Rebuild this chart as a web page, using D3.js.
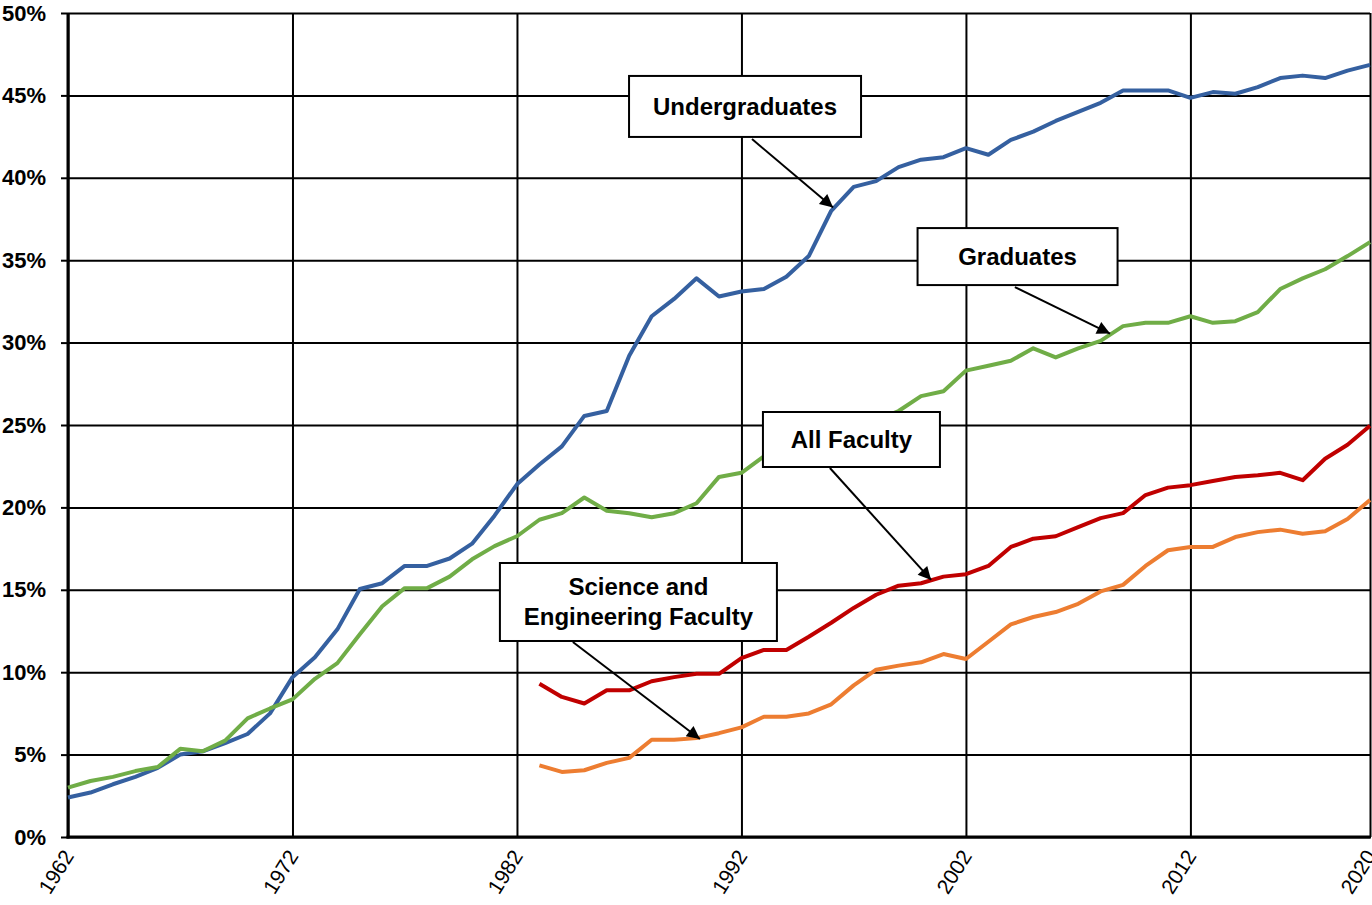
<!DOCTYPE html>
<html>
<head>
<meta charset="utf-8">
<script src="https://cdn.jsdelivr.net/npm/d3@7"></script>
<style>
  html, body { margin: 0; padding: 0; background: #fff; }
  svg { display: block; font-family: "Liberation Sans", Arial, sans-serif; }
</style>
</head>
<body>
<svg id="chart" width="1372" height="905"></svg>
<script>
// ---------- Data ----------
const years = d3.range(1962, 2021);            // 1962 .. 2020
const facultyYears = d3.range(1983, 2021);     // 1983 .. 2020

const undergraduates = [
  2.4, 2.7, 3.2, 3.65, 4.2, 5.0, 5.2, 5.7, 6.25, 7.5,
  9.7, 10.9, 12.6, 15.05, 15.4, 16.45, 16.45, 16.9, 17.8, 19.5,
  21.4, 22.6, 23.7, 25.55, 25.85, 29.2, 31.6, 32.65, 33.9, 32.8,
  33.1, 33.25, 34.0, 35.25, 38.0, 39.45, 39.8, 40.65, 41.1, 41.25,
  41.8, 41.4, 42.3, 42.8, 43.45, 44.0, 44.55, 45.3, 45.3, 45.3,
  44.85, 45.2, 45.1, 45.5, 46.05, 46.2, 46.05, 46.5, 46.85
];
const graduates = [
  3.0, 3.4, 3.65, 4.0, 4.25, 5.35, 5.2, 5.85, 7.2, 7.8,
  8.35, 9.6, 10.55, 12.3, 14.0, 15.1, 15.1, 15.8, 16.85, 17.65,
  18.25, 19.25, 19.65, 20.6, 19.8, 19.65, 19.4, 19.65, 20.25, 21.85,
  22.1, 23.1, 23.5, 24.0, 24.4, 24.9, 25.3, 25.85, 26.75, 27.05,
  28.3, 28.6, 28.9, 29.65, 29.1, 29.65, 30.1, 31.0, 31.2, 31.2,
  31.6, 31.2, 31.3, 31.85, 33.25, 33.9, 34.45, 35.25, 36.1
];
const allFaculty = [
  9.3, 8.5, 8.1, 8.9, 8.9, 9.45, 9.7, 9.9, 9.9, 10.85,
  11.35, 11.35, 12.15, 13.0, 13.9, 14.7, 15.25, 15.4, 15.8, 15.95,
  16.45, 17.6, 18.1, 18.25, 18.8, 19.35, 19.65, 20.75, 21.2, 21.35,
  21.6, 21.85, 21.95, 22.1, 21.65, 22.95, 23.8, 24.95
];
const seFaculty = [
  4.35, 3.95, 4.05, 4.5, 4.8, 5.9, 5.9, 6.0, 6.3, 6.65,
  7.3, 7.3, 7.5, 8.05, 9.2, 10.15, 10.4, 10.6, 11.1, 10.8,
  11.85, 12.9, 13.35, 13.65, 14.15, 14.9, 15.3, 16.45, 17.4, 17.6,
  17.6, 18.2, 18.5, 18.65, 18.4, 18.55, 19.3, 20.45
];

const xTickYears = [1962, 1972, 1982, 1992, 2002, 2012, 2020];
const yTickValues = [0, 5, 10, 15, 20, 25, 30, 35, 40, 45, 50];

const seriesNames = ["Undergraduates", "Graduates", "All Faculty", "Science and Engineering Faculty"];
const seriesColors = ["#3560A0", "#70AD47", "#C00000", "#ED7D31"];

// annotation callouts: label lines, box centre (year, %), arrow start (year, %), arrow tip (year, %)
const calloutLines = [["Undergraduates"], ["Graduates"], ["All Faculty"], ["Science and", "Engineering Faculty"]];
const calloutCenter = [[1992.16, 44.33], [2004.3, 35.22], [1996.9, 24.12], [1987.41, 14.26]];
const calloutSize = [[232, 61], [200, 57], [177, 55], [277, 78]];
const arrowStart = [[1992.47, 42.35], [2004.18, 33.37], [1995.94, 22.39], [1984.49, 11.83]];
const arrowTip = [[1996.08, 38.2], [2008.42, 30.55], [2000.45, 15.6], [1990.15, 5.95]];

// ---------- Layout ----------
const W = 1372, H = 905;
const plot = { left: 68, right: 1370, top: 13, bottom: 837 };

const svg = d3.select("#chart");
const x = d3.scaleLinear().domain([1962, 2020]).range([plot.left, plot.right]);
const y = d3.scaleLinear().domain([0, 50]).range([plot.bottom, plot.top]);

// Horizontal grid
svg.append("g")
  .attr("transform", `translate(${plot.left},0)`)
  .call(d3.axisLeft(y).tickValues(yTickValues).tickSize(-(plot.right - plot.left)).tickFormat(""))
  .call(g => g.select(".domain").remove())
  .call(g => g.selectAll("line").attr("stroke", "#000").attr("stroke-width", 2));

// Vertical grid
svg.append("g")
  .attr("transform", `translate(0,${plot.bottom})`)
  .call(d3.axisBottom(x).tickValues(xTickYears).tickSize(-(plot.bottom - plot.top)).tickFormat(""))
  .call(g => g.select(".domain").remove())
  .call(g => g.selectAll("line").attr("stroke", "#000").attr("stroke-width", 2));

// Y axis with labels
const yAxis = svg.append("g")
  .attr("transform", `translate(${plot.left},0)`)
  .call(d3.axisLeft(y).tickValues(yTickValues).tickSize(7).tickPadding(15).tickFormat(d => d + "%"));
yAxis.select(".domain").attr("stroke", "#000").attr("stroke-width", 3).attr("d", `M0,${plot.top}V${plot.bottom + 1.5}`);
yAxis.selectAll(".tick line").attr("stroke", "#000").attr("stroke-width", 2);
yAxis.selectAll(".tick text")
  .attr("fill", "#000").attr("font-size", 22).attr("font-weight", "bold")
  .attr("font-family", "'Liberation Sans', Arial, sans-serif");

// X axis with rotated labels
const xAxis = svg.append("g")
  .attr("transform", `translate(0,${plot.bottom})`)
  .call(d3.axisBottom(x).tickValues(xTickYears).tickSize(0).tickFormat(d3.format("d")));
xAxis.select(".domain").attr("stroke", "#000").attr("stroke-width", 3).attr("d", `M${plot.left - 1.5},0H${plot.right + 1}`);
xAxis.selectAll(".tick text")
  .attr("fill", "#000").attr("font-size", 21)
  .attr("font-family", "'Liberation Sans', Arial, sans-serif")
  .attr("text-anchor", "end")
  .attr("y", 0)
  .attr("dy", "0.35em")
  .attr("transform", "translate(0,15) rotate(-58)");

// Lines
const line = d3.line().x(d => x(d[0])).y(d => y(d[1]));
const seriesData = [
  years.map((yr, i) => [yr, undergraduates[i]]),
  years.map((yr, i) => [yr, graduates[i]]),
  facultyYears.map((yr, i) => [yr, allFaculty[i]]),
  facultyYears.map((yr, i) => [yr, seFaculty[i]])
];
svg.append("g").selectAll("path")
  .data(seriesData)
  .join("path")
  .attr("d", line)
  .attr("fill", "none")
  .attr("stroke", (d, i) => seriesColors[i])
  .attr("stroke-width", 4)
  .attr("stroke-linejoin", "round");

// Arrow marker
svg.append("defs").append("marker")
  .attr("id", "arrow")
  .attr("viewBox", "0 0 10 10")
  .attr("refX", 10).attr("refY", 5)
  .attr("markerWidth", 8).attr("markerHeight", 6.5)
  .attr("markerUnits", "strokeWidth")
  .attr("orient", "auto")
  .append("path").attr("d", "M0,0L10,5L0,10Z").attr("fill", "#000");

// Callouts
const callouts = svg.append("g");
calloutLines.forEach((lines, i) => {
  const cx = x(calloutCenter[i][0]), cy = y(calloutCenter[i][1]);
  const [bw, bh] = calloutSize[i];
  callouts.append("line")
    .attr("x1", x(arrowStart[i][0])).attr("y1", y(arrowStart[i][1]))
    .attr("x2", x(arrowTip[i][0])).attr("y2", y(arrowTip[i][1]))
    .attr("stroke", "#000").attr("stroke-width", 2)
    .attr("marker-end", "url(#arrow)");
  callouts.append("rect")
    .attr("x", cx - bw / 2).attr("y", cy - bh / 2)
    .attr("width", bw).attr("height", bh)
    .attr("fill", "#fff").attr("stroke", "#000").attr("stroke-width", 2);
  const lh = 30;
  lines.forEach((t, j) => {
    callouts.append("text")
      .attr("x", cx)
      .attr("y", cy + (j - (lines.length - 1) / 2) * lh)
      .attr("dy", "0.35em")
      .attr("text-anchor", "middle")
      .attr("font-size", 24).attr("font-weight", "bold")
      .attr("fill", "#000")
      .text(t);
  });
});
</script>
</body>
</html>
